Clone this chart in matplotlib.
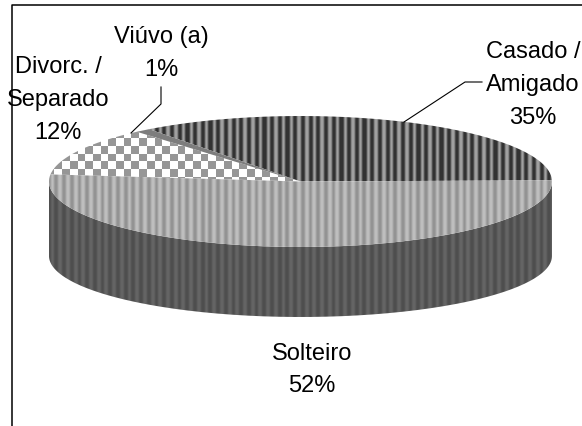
import numpy as np
import matplotlib
matplotlib.use("Agg")
import matplotlib.pyplot as plt
from matplotlib.patches import PathPatch
from matplotlib.path import Path

categories = ["Casado /\nAmigado", "Solteiro", "Divorc. /\nSeparado", "Viúvo (a)"]
values = [35, 52, 12, 1]

W, H = 582, 427
CX, CY, RX, RY = 300.5, 182.5, 251.5, 65.5
BOT_CY, BOT_RY = 257.0, 61.0
START = 127.0

plt.rcParams["font.family"] = ["Liberation Sans", "DejaVu Sans"]
fig = plt.figure(figsize=(W / 100, H / 100), dpi=100)
ax = fig.add_axes([0, 0, 1, 1])
ax.set_xlim(0, W)
ax.set_ylim(H, 0)
ax.axis("off")


def pt(deg, cy=CY, ry=RY):
    t = np.radians(deg)
    return CX + RX * np.cos(t), cy - ry * np.sin(t)


def arc(a, b, cy=CY, ry=RY, n=200):
    x, y = pt(np.linspace(a, b, n), cy, ry)
    return np.column_stack([x, y])


def paint(img, verts, interp="nearest"):
    im = ax.imshow(img, extent=(0, W, H, 0), cmap="gray", vmin=0, vmax=255,
                   interpolation=interp, aspect="auto", zorder=2)
    p = PathPatch(Path(np.vstack([verts, verts[:1]])), transform=ax.transData,
                  fc="none", ec="none")
    ax.add_patch(p)
    im.set_clip_path(p)


def stripes(period, low, high, duty=0.5):
    x = np.arange(W)
    row = np.where((x % period) < period * duty, float(low), float(high))
    row = np.convolve(np.pad(row, 1, mode="edge"), [0.25, 0.5, 0.25], mode="valid")
    return np.tile(row, (H, 1))


X, Y = np.meshgrid(np.arange(W), np.arange(H))

dark_stripes = stripes(7.7, 50, 160, 0.55)
light_stripes = stripes(7.7, 148, 190)
wall_stripes = stripes(7.7, 78, 100)
checks = np.where(((X // 7.7).astype(int) + (Y // 7.7).astype(int)) % 2 == 0, 150, 255).astype(float)
solid = np.full((H, W), 125.0)

patterns = [dark_stripes, light_stripes, checks, solid]

# wedges, clockwise from START, sized by the values
angles = START - np.cumsum([0] + values) * 3.6
for i in [0, 2, 3]:
    a, b = angles[i], angles[i + 1]
    verts = np.vstack([[[CX, CY]], arc(a, b)])
    paint(patterns[i], verts)

# front wall below the Solteiro slice
wall_top = arc(0, -180)
wall_bot = arc(-180, 0, BOT_CY, BOT_RY)
paint(wall_stripes, np.vstack([wall_top, wall_bot]))
# Solteiro face above the wall
a, b = angles[1], angles[2]
paint(light_stripes, np.vstack([[[CX, CY]], arc(a, b)]))

# frame
ax.plot([11.5, 11.5, W], [H, 5.5, 5.5], color="black", lw=1.1, zorder=1, solid_capstyle="butt")

# leader lines
ax.plot([161, 161, 131], [88, 105, 134], color="black", lw=0.8, zorder=3)
ax.plot([482, 465, 404], [83, 83, 123], color="black", lw=0.8, zorder=3)

fs = 17
label_pos = [(533, 85), (312, 370), (58, 100), (161, 53.5)]
for name, v, (x, y) in zip(categories, values, label_pos):
    ax.text(x, y, f"{name}\n{v}%", ha="center", va="center", fontsize=fs,
            linespacing=1.62, color="black", zorder=4)

fig.savefig("out.png", dpi=100)
